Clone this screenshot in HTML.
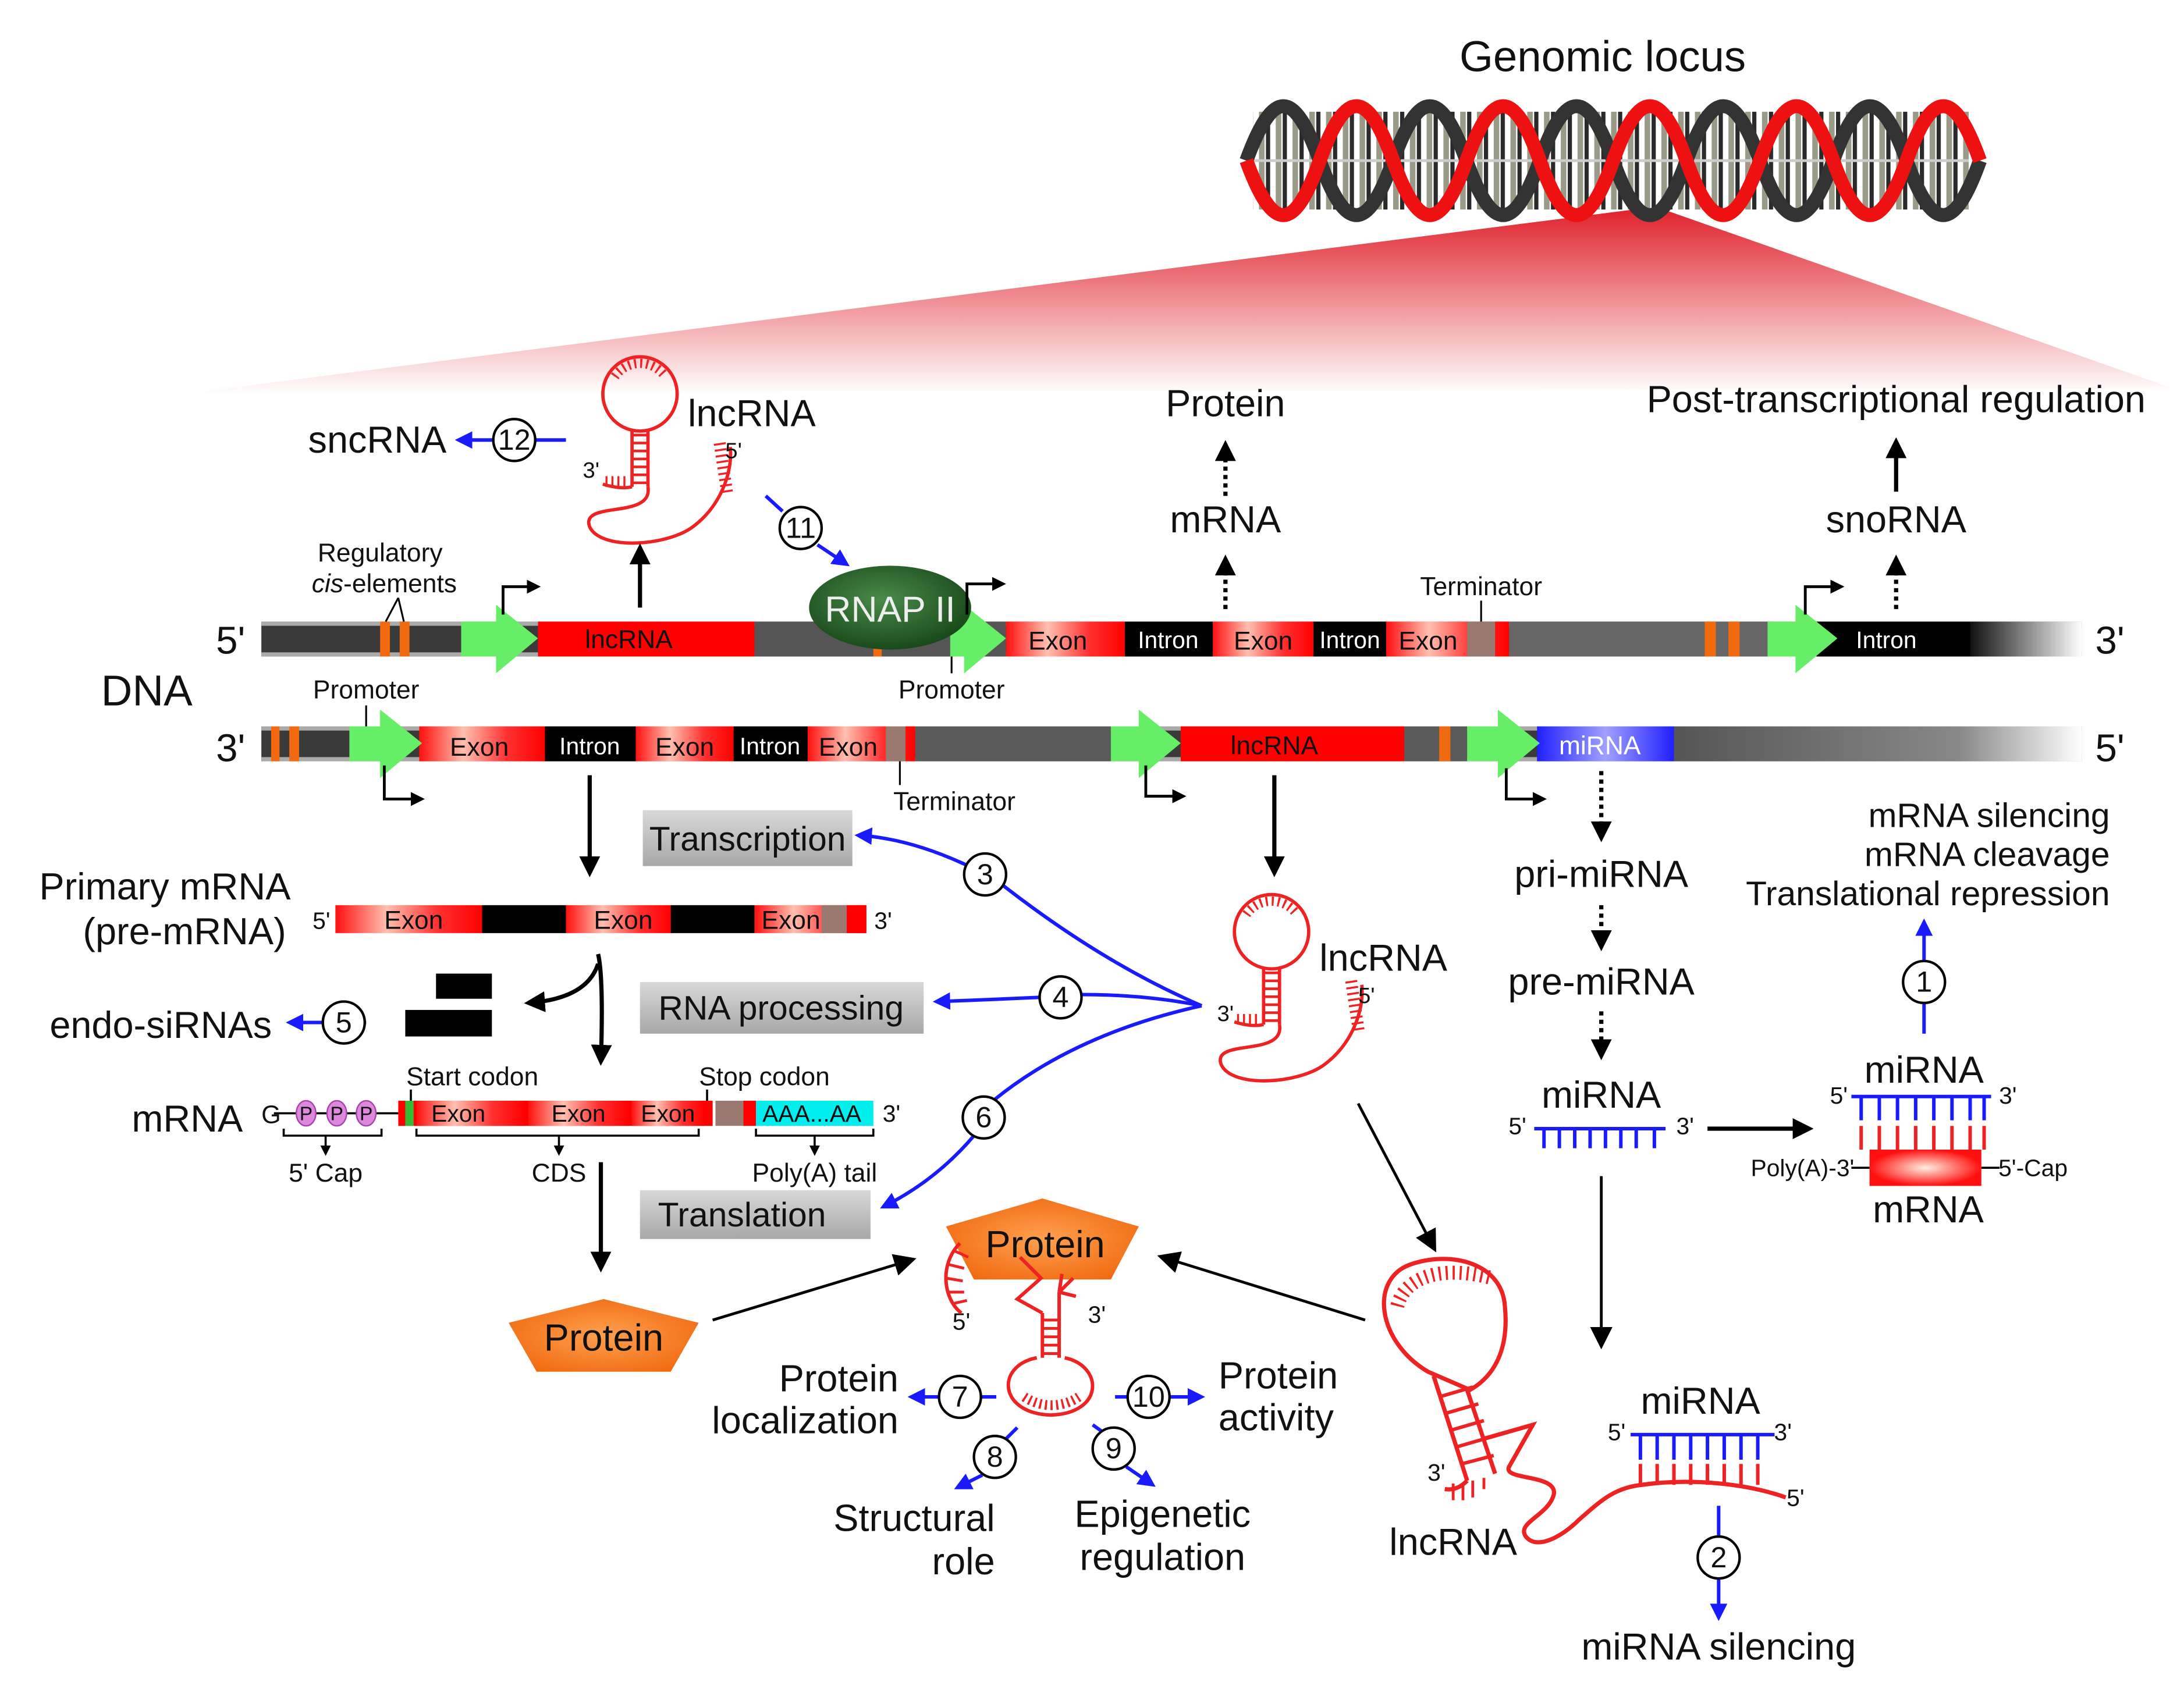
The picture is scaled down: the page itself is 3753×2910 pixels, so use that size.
<!DOCTYPE html>
<html><head><meta charset="utf-8"><style>
html,body{margin:0;padding:0;background:#fff;}
svg{display:block;}
text{font-family:"Liberation Sans",Arial,sans-serif;fill:#111;}
</style></head><body>
<svg xmlns="http://www.w3.org/2000/svg" width="3753" height="2910" viewBox="0 0 1563 1212">
<defs>
<linearGradient id="tri" x1="0" y1="0" x2="0" y2="1"><stop offset="0" stop-color="#e0202a"/><stop offset="1" stop-color="#fff"/></linearGradient>
<linearGradient id="ex" x1="0" y1="0" x2="1" y2="0"><stop offset="0" stop-color="#ff1010"/><stop offset="0.35" stop-color="#ffc0b0"/><stop offset="0.7" stop-color="#ff3030"/><stop offset="1" stop-color="#ff0000"/></linearGradient>
<linearGradient id="fade" x1="0" y1="0" x2="1" y2="0"><stop offset="0" stop-color="#555"/><stop offset="0.7" stop-color="#888"/><stop offset="1" stop-color="#fff"/></linearGradient>
<linearGradient id="fade2" x1="0" y1="0" x2="1" y2="0"><stop offset="0" stop-color="#111"/><stop offset="1" stop-color="#fff"/></linearGradient>
<linearGradient id="blu" x1="0" y1="0" x2="1" y2="0"><stop offset="0" stop-color="#2020ff"/><stop offset="0.5" stop-color="#a0a0ff"/><stop offset="1" stop-color="#2020ff"/></linearGradient>
<radialGradient id="rnap" cx="0.45" cy="0.4" r="0.6"><stop offset="0" stop-color="#4a8a4a"/><stop offset="1" stop-color="#1a4a1a"/></radialGradient>
<radialGradient id="mr" cx="0.5" cy="0.5" r="0.5"><stop offset="0" stop-color="#fff0e0"/><stop offset="1" stop-color="#ff1010"/></radialGradient>
<linearGradient id="box" x1="0" y1="0" x2="0" y2="1"><stop offset="0" stop-color="#d8d8d8"/><stop offset="1" stop-color="#a8a8a8"/></linearGradient>
<radialGradient id="prot" cx="0.5" cy="0.5" r="0.6"><stop offset="0" stop-color="#ffa050"/><stop offset="1" stop-color="#f06a10"/></radialGradient>
<pattern id="rung" width="12" height="80" patternUnits="userSpaceOnUse"><rect width="12" height="80" fill="#fff"/><rect x="1" width="4" height="80" fill="#9a9a88"/><rect x="6" width="3" height="80" fill="#2a2a2a"/></pattern>
<marker id="ab" markerWidth="8" markerHeight="8" refX="6" refY="4" orient="auto" markerUnits="strokeWidth"><path d="M0,0 L8,4 L0,8 Z" fill="#000"/></marker>
<marker id="ab2" markerWidth="5" markerHeight="5" refX="4" refY="2.5" orient="auto" markerUnits="strokeWidth"><path d="M0,0 L5,2.5 L0,5 Z" fill="#000"/></marker>
<marker id="bb" markerWidth="5" markerHeight="5" refX="4" refY="2.5" orient="auto" markerUnits="strokeWidth"><path d="M0,0 L5,2.5 L0,5 Z" fill="#1a1aff"/></marker>
<g id="hp" fill="none" stroke="#ee2222" stroke-width="2.5">
  <circle cx="0" cy="0" r="28"/>
  <path d="M -19 -13 A 23 23 0 0 1 19 -13" stroke-width="7" stroke-dasharray="1.5 3"/>
  <line x1="-6" y1="27" x2="-6" y2="70"/><line x1="6" y1="27" x2="6" y2="70"/>
  <line x1="0" y1="30" x2="0" y2="68" stroke-width="12" stroke-dasharray="2 4"/>
  <path d="M -6 70 Q -15 72 -28 68"/>
  <path d="M -26 66 L -10 66" stroke-width="8" stroke-dasharray="1.5 3"/>
  <path d="M 6 70 C 10 95 -45 80 -38 100 C -30 118 20 115 40 100 C 60 85 70 60 68 40"/>
  <path d="M 68 45 L 74 85" stroke-width="9" stroke-dasharray="1.5 3" transform="translate(-8 -8)"/>
</g>
</defs>
<rect width="1563" height="1212" fill="#fff"/>

<!-- zoom triangle -->
<polygon points="1185,148 130,282 1555,278" fill="url(#tri)"/>
<!-- helix -->
<rect x="897" y="80" width="512" height="70" fill="url(#rung)"/>
<line x1="897" y1="115" x2="1409" y2="115" stroke="#ccc" stroke-width="2"/>
<path d="M892 115 c19 -52 34 -52 52.5 0 s34 52 52.5 0 s34 -52 52.5 0 s34 52 52.5 0 s34 -52 52.5 0 s34 52 52.5 0 s34 -52 52.5 0 s34 52 52.5 0 s34 -52 52.5 0 s34 52 52.5 0" fill="none" stroke="#333" stroke-width="10"/>
<path d="M892 115 c19 52 34 52 52.5 0 s34 -52 52.5 0 s34 52 52.5 0 s34 -52 52.5 0 s34 52 52.5 0 s34 -52 52.5 0 s34 52 52.5 0 s34 -52 52.5 0 s34 52 52.5 0 s34 -52 52.5 0" fill="none" stroke="#ee1111" stroke-width="10"/>
<text x="1147" y="51" font-size="31" text-anchor="middle">Genomic locus</text>

<!-- top strand -->
<rect x="187" y="445" width="1303" height="25" fill="#3a3a3a"/>
<rect x="187" y="445" width="1303" height="3" fill="#aaa"/>
<rect x="187" y="467" width="1303" height="3" fill="#aaa"/>
<rect x="272" y="445" width="7" height="25" fill="#f26a10"/><rect x="286" y="445" width="7" height="25" fill="#f26a10"/>
<rect x="385" y="445" width="155" height="25" fill="#ff0000"/>
<rect x="540" y="445" width="180" height="25" fill="#555"/>
<rect x="720" y="445" width="85" height="25" fill="url(#ex)"/>
<rect x="805" y="445" width="63" height="25" fill="#000"/>
<rect x="868" y="445" width="72" height="25" fill="url(#ex)"/>
<rect x="940" y="445" width="52" height="25" fill="#000"/>
<rect x="992" y="445" width="88" height="25" fill="url(#ex)"/>
<rect x="1050" y="445" width="20" height="25" fill="#9a7a70"/>
<rect x="1080" y="445" width="190" height="25" fill="#666"/>
<rect x="1220" y="445" width="8" height="25" fill="#f26a10"/><rect x="1237" y="445" width="8" height="25" fill="#f26a10"/>
<rect x="1300" y="445" width="110" height="25" fill="#000"/>
<rect x="1410" y="445" width="80" height="25" fill="url(#fade2)"/>
<polygon points="330,445 355,445 355,433 385,457 355,482 355,470 330,470" fill="#66ee66"/>
<polygon points="680,445 690,445 690,433 720,457 690,482 690,470 680,470" fill="#66ee66"/>
<polygon points="1265,445 1285,445 1285,433 1315,457 1285,482 1285,470 1265,470" fill="#66ee66"/>
<rect x="625" y="462" width="6" height="8" fill="#f26a10"/>
<ellipse cx="637" cy="435" rx="58" ry="30" fill="url(#rnap)"/>
<text x="637" y="445" font-size="26" text-anchor="middle" style="fill:#eee">RNAP II</text>
<g font-size="18.5" text-anchor="middle">
<text x="450" y="464">lncRNA</text>
<text x="757" y="465">Exon</text><text x="836" y="464" style="fill:#fff" font-size="17">Intron</text>
<text x="904" y="465">Exon</text><text x="966" y="464" style="fill:#fff" font-size="17">Intron</text>
<text x="1022" y="465">Exon</text><text x="1350" y="464" style="fill:#fff" font-size="17">Intron</text>
</g>
<text x="165" y="468" font-size="28" text-anchor="middle">5'</text>
<text x="1510" y="468" font-size="28" text-anchor="middle">3'</text>
<text x="105" y="505" font-size="31" text-anchor="middle">DNA</text>

<!-- bottom strand -->
<rect x="187" y="520" width="1303" height="25" fill="#3a3a3a"/>
<rect x="187" y="520" width="1303" height="3" fill="#aaa"/>
<rect x="187" y="542" width="1303" height="3" fill="#aaa"/>
<rect x="194" y="520" width="6" height="25" fill="#f26a10"/><rect x="207" y="520" width="7" height="25" fill="#f26a10"/>
<rect x="300" y="520" width="90" height="25" fill="url(#ex)"/>
<rect x="390" y="520" width="65" height="25" fill="#000"/>
<rect x="455" y="520" width="70" height="25" fill="url(#ex)"/>
<rect x="525" y="520" width="53" height="25" fill="#000"/>
<rect x="578" y="520" width="77" height="25" fill="url(#ex)"/>
<rect x="634" y="520" width="14" height="25" fill="#9a7a70"/>
<rect x="655" y="520" width="140" height="25" fill="#5a5a5a"/>
<rect x="845" y="520" width="160" height="25" fill="#ff0000"/>
<rect x="1005" y="520" width="45" height="25" fill="#5a5a5a"/>
<rect x="1030" y="520" width="8" height="25" fill="#f26a10"/>
<rect x="1100" y="520" width="98" height="25" fill="url(#blu)"/>
<rect x="1198" y="520" width="292" height="25" fill="url(#fade)"/>
<polygon points="250,520 272,520 272,508 302,532 272,557 272,545 250,545" fill="#66ee66"/>
<polygon points="795,520 815,520 815,508 845,532 815,557 815,545 795,545" fill="#66ee66"/>
<polygon points="1050,520 1072,520 1072,508 1102,532 1072,557 1072,545 1050,545" fill="#66ee66"/>
<g font-size="18.5" text-anchor="middle">
<text x="343" y="541">Exon</text><text x="422" y="540" style="fill:#fff" font-size="17">Intron</text>
<text x="490" y="541">Exon</text><text x="551" y="540" style="fill:#fff" font-size="17">Intron</text>
<text x="607" y="541">Exon</text>
<text x="912" y="540">lncRNA</text><text x="1145" y="540" style="fill:#fff">miRNA</text>
</g>
<text x="165" y="545" font-size="28" text-anchor="middle">3'</text>
<text x="1510" y="545" font-size="28" text-anchor="middle">5'</text>

<!-- TSS bent arrows -->
<g fill="none" stroke="#000" stroke-width="2" marker-end="url(#ab2)">
<path d="M360 440 V420 H385"/><path d="M692 440 V418 H718"/><path d="M1292 440 V420 H1318"/>
<path d="M275 548 V572 H302"/><path d="M820 548 V570 H847"/><path d="M1078 550 V572 H1105"/>
</g>
<!-- labels on DNA -->
<g font-size="18.5" text-anchor="middle">
<text x="272" y="402">Regulatory</text>
<text x="275" y="424"><tspan font-style="italic">cis</tspan>-elements</text>
<text x="262" y="500">Promoter</text>
<text x="681" y="500">Promoter</text>
<text x="1060" y="426">Terminator</text>
<text x="683" y="580">Terminator</text>
</g>
<g stroke="#000" stroke-width="1.3">
<line x1="276" y1="445" x2="285" y2="428"/><line x1="289" y1="445" x2="285" y2="428"/>
<line x1="262" y1="505" x2="262" y2="520"/><line x1="681" y1="470" x2="681" y2="482"/>
<line x1="1060" y1="430" x2="1060" y2="445"/><line x1="644" y1="545" x2="644" y2="562"/>
</g>

<!-- top hairpin -->
<use href="#hp" transform="translate(458,282) scale(0.95)"/>
<text x="538" y="305" font-size="27" text-anchor="middle">lncRNA</text>
<text x="525" y="328" font-size="16" text-anchor="middle">5'</text>
<text x="423" y="342" font-size="16" text-anchor="middle">3'</text>
<line x1="458" y1="435" x2="458" y2="392" stroke="#000" stroke-width="3" marker-end="url(#ab2)"/>
<text x="270" y="324" font-size="27" text-anchor="middle">sncRNA</text>
<line x1="405" y1="315" x2="328" y2="315" stroke="#1a1aff" stroke-width="2.5" marker-end="url(#bb)"/>
<g fill="none" stroke="#1a1aff" stroke-width="2.5">
<line x1="548" y1="355" x2="560" y2="366"/>
<line x1="585" y1="390" x2="606" y2="404" marker-end="url(#bb)"/>
<path d="M860 720 Q790 690 718 634"/><path d="M691 619 Q650 600 614 598" marker-end="url(#bb)"/>
<path d="M860 720 Q820 712 774 712"/><path d="M744 714 Q700 716 670 717" marker-end="url(#bb)"/>
<path d="M860 720 Q770 740 712 787"/><path d="M697 813 Q670 845 632 864" marker-end="url(#bb)"/>
<line x1="262" y1="732" x2="207" y2="732" marker-end="url(#bb)"/>
<line x1="1377" y1="740" x2="1377" y2="718"/><line x1="1377" y1="688" x2="1377" y2="660" marker-end="url(#bb)"/>
<line x1="1230" y1="1078" x2="1230" y2="1100"/><line x1="1230" y1="1130" x2="1230" y2="1158" marker-end="url(#bb)"/>
<line x1="713" y1="1000" x2="702" y2="1000"/><line x1="672" y1="1000" x2="652" y2="1000" marker-end="url(#bb)"/>
<line x1="798" y1="1000" x2="807" y2="1000"/><line x1="837" y1="1000" x2="860" y2="1000" marker-end="url(#bb)"/>
<line x1="728" y1="1022" x2="720" y2="1030"/><line x1="703" y1="1056" x2="685" y2="1065" marker-end="url(#bb)"/>
<line x1="782" y1="1020" x2="789" y2="1025"/><line x1="806" y1="1050" x2="825" y2="1063" marker-end="url(#bb)"/>
</g>
<g fill="#fff" stroke="#000" stroke-width="1.8">
<circle cx="368" cy="315" r="15"/><circle cx="573" cy="378" r="15"/>
<circle cx="705" cy="626" r="15"/><circle cx="759" cy="714" r="15"/><circle cx="704" cy="800" r="15"/>
<circle cx="246" cy="732" r="15"/><circle cx="1377" cy="703" r="15"/><circle cx="1230" cy="1115" r="15"/>
<circle cx="687" cy="1000" r="15"/><circle cx="822" cy="1000" r="15"/><circle cx="712" cy="1043" r="15"/><circle cx="797" cy="1037" r="15"/>
</g>
<g font-size="21" text-anchor="middle">
<text x="368" y="322">12</text><text x="573" y="385">11</text><text x="705" y="633">3</text><text x="759" y="721">4</text>
<text x="704" y="807">6</text><text x="246" y="739">5</text><text x="1377" y="710">1</text><text x="1230" y="1122">2</text>
<text x="687" y="1007">7</text><text x="822" y="1007">10</text><text x="712" y="1050">8</text><text x="797" y="1044">9</text>
</g>

<!-- Protein / mRNA / snoRNA top -->
<text x="877" y="298" font-size="27" text-anchor="middle">Protein</text>
<text x="877" y="381" font-size="27" text-anchor="middle">mRNA</text>
<text x="1357" y="295" font-size="27" text-anchor="middle">Post-transcriptional regulation</text>
<text x="1357" y="381" font-size="27" text-anchor="middle">snoRNA</text>
<g stroke="#000" stroke-width="3" fill="none">
<line x1="877" y1="436" x2="877" y2="400" stroke-dasharray="3 3" marker-end="url(#ab2)"/>
<line x1="877" y1="355" x2="877" y2="318" stroke-dasharray="3 3" marker-end="url(#ab2)"/>
<line x1="1357" y1="436" x2="1357" y2="400" stroke-dasharray="3 3" marker-end="url(#ab2)"/>
<line x1="1357" y1="352" x2="1357" y2="316" marker-end="url(#ab2)"/>
<line x1="1146" y1="552" x2="1146" y2="600" stroke-dasharray="3 3" marker-end="url(#ab2)"/>
<line x1="1146" y1="648" x2="1146" y2="678" stroke-dasharray="3 3" marker-end="url(#ab2)"/>
<line x1="1146" y1="724" x2="1146" y2="756" stroke-dasharray="3 3" marker-end="url(#ab2)"/>
<line x1="422" y1="555" x2="422" y2="625" marker-end="url(#ab2)"/>
<line x1="912" y1="555" x2="912" y2="625" marker-end="url(#ab2)"/>
<path d="M428 683 Q432 700 430 760" marker-end="url(#ab2)"/>
<path d="M428 690 Q420 715 378 718" marker-end="url(#ab2)"/>
<line x1="430" y1="832" x2="430" y2="908" marker-end="url(#ab2)"/>
<line x1="1222" y1="808" x2="1295" y2="808" marker-end="url(#ab2)"/>
</g>
<g stroke="#000" stroke-width="2" fill="none">
<line x1="510" y1="945" x2="652" y2="902" marker-end="url(#ab)"/>
<line x1="977" y1="945" x2="832" y2="900" marker-end="url(#ab)"/>
<line x1="972" y1="790" x2="1026" y2="893" marker-end="url(#ab)"/>
<line x1="1146" y1="842" x2="1146" y2="962" marker-end="url(#ab)"/>
</g>

<!-- gray boxes -->
<rect x="460" y="580" width="150" height="40" fill="url(#box)"/>
<text x="535" y="609" font-size="24.5" text-anchor="middle">Transcription</text>
<rect x="458" y="703" width="203" height="37" fill="url(#box)"/>
<text x="559" y="730" font-size="24.5" text-anchor="middle">RNA processing</text>
<rect x="458" y="852" width="165" height="35" fill="url(#box)"/>
<text x="531" y="878" font-size="24.5" text-anchor="middle">Translation</text>

<!-- pre-mRNA -->
<text x="118" y="644" font-size="27" text-anchor="middle">Primary mRNA</text>
<text x="132" y="676" font-size="27" text-anchor="middle">(pre-mRNA)</text>
<rect x="240" y="648" width="105" height="20" fill="url(#ex)"/>
<rect x="345" y="648" width="60" height="20" fill="#000"/>
<rect x="405" y="648" width="75" height="20" fill="url(#ex)"/>
<rect x="480" y="648" width="60" height="20" fill="#000"/>
<rect x="540" y="648" width="80" height="20" fill="url(#ex)"/>
<rect x="588" y="648" width="18" height="20" fill="#9a7a70"/>
<rect x="606" y="648" width="14" height="20" fill="#f00"/>
<g font-size="18.5" text-anchor="middle"><text x="296" y="665">Exon</text><text x="446" y="665">Exon</text><text x="566" y="665">Exon</text></g>
<text x="230" y="665" font-size="17" text-anchor="middle">5'</text>
<text x="632" y="665" font-size="17" text-anchor="middle">3'</text>
<rect x="312" y="697" width="40" height="18" fill="#000"/>
<rect x="290" y="723" width="62" height="19" fill="#000"/>
<text x="115" y="743" font-size="27" text-anchor="middle">endo-siRNAs</text>

<!-- mRNA -->
<text x="134" y="810" font-size="27" text-anchor="middle">mRNA</text>
<line x1="196" y1="797" x2="285" y2="797" stroke="#000" stroke-width="1.5"/>
<text x="194" y="804" font-size="18" text-anchor="middle">G</text>
<g fill="#dd88dd" stroke="#aa44aa" stroke-width="1"><ellipse cx="219" cy="797" rx="7" ry="9"/><ellipse cx="241" cy="797" rx="7" ry="9"/><ellipse cx="262" cy="797" rx="7" ry="9"/></g>
<g font-size="14" text-anchor="middle"><text x="219" y="802">P</text><text x="241" y="802">P</text><text x="262" y="802">P</text></g>
<rect x="285" y="788" width="225" height="18" fill="#f00"/>
<rect x="290" y="788" width="6" height="18" fill="#33bb33"/>
<rect x="298" y="788" width="78" height="18" fill="url(#ex)"/>
<rect x="378" y="788" width="72" height="18" fill="url(#ex)"/>
<rect x="452" y="788" width="52" height="18" fill="url(#ex)"/>
<rect x="512" y="788" width="20" height="18" fill="#9a7a70"/>
<rect x="532" y="788" width="9" height="18" fill="#f00"/>
<rect x="541" y="788" width="84" height="18" fill="#00eeee"/>
<g font-size="17" text-anchor="middle"><text x="328" y="803">Exon</text><text x="414" y="803">Exon</text><text x="478" y="803">Exon</text><text x="581" y="803">AAA...AA</text></g>
<text x="638" y="803" font-size="17" text-anchor="middle">3'</text>
<text x="338" y="777" font-size="18.5" text-anchor="middle">Start codon</text>
<text x="547" y="777" font-size="18.5" text-anchor="middle">Stop codon</text>
<g stroke="#000" stroke-width="1.5" fill="none">
<line x1="294" y1="780" x2="294" y2="788"/><line x1="506" y1="780" x2="506" y2="788"/>
<path d="M203 808 V813 H273 V808"/><path d="M298 808 V813 H500 V808"/><path d="M541 808 V813 H625 V808"/>
<line x1="233" y1="813" x2="233" y2="826" marker-end="url(#ab2)"/>
<line x1="400" y1="813" x2="400" y2="826" marker-end="url(#ab2)"/>
<line x1="583" y1="813" x2="583" y2="826" marker-end="url(#ab2)"/>
</g>
<g font-size="18.5" text-anchor="middle"><text x="233" y="846">5' Cap</text><text x="400" y="846">CDS</text><text x="583" y="846">Poly(A) tail</text></g>

<!-- middle hairpin -->
<use href="#hp" transform="translate(910,667) scale(0.95)"/>
<text x="990" y="695" font-size="27" text-anchor="middle">lncRNA</text>
<text x="978" y="718" font-size="16" text-anchor="middle">5'</text>
<text x="877" y="731" font-size="16" text-anchor="middle">3'</text>

<!-- miRNA right column -->
<g font-size="27" text-anchor="middle">
<text x="1146" y="635">pri-miRNA</text><text x="1146" y="712">pre-miRNA</text><text x="1146" y="793">miRNA</text>
<text x="1377" y="775">miRNA</text><text x="1380" y="875">mRNA</text>
<text x="1217" y="1012">miRNA</text><text x="1230" y="1188">miRNA silencing</text>
</g>
<g font-size="24.5" text-anchor="end"><text x="1510" y="592">mRNA silencing</text><text x="1510" y="620">mRNA cleavage</text><text x="1510" y="648">Translational repression</text></g>
<g stroke="#1a1aff" stroke-width="2.5" fill="none">
<line x1="1098" y1="808" x2="1192" y2="808"/>
<path d="M1105 808 v14 M1116 808 v14 M1127 808 v14 M1138 808 v14 M1149 808 v14 M1160 808 v14 M1171 808 v14 M1184 808 v14"/>
<line x1="1325" y1="785" x2="1425" y2="785"/>
<path d="M1332 785 v17 M1345 785 v17 M1358 785 v17 M1371 785 v17 M1384 785 v17 M1397 785 v17 M1410 785 v17 M1420 785 v17"/>
<line x1="1167" y1="1027" x2="1270" y2="1027"/>
<path d="M1174 1027 v18 M1186 1027 v18 M1198 1027 v18 M1210 1027 v18 M1222 1027 v18 M1234 1027 v18 M1246 1027 v18 M1258 1027 v18"/>
</g>
<g font-size="17" text-anchor="middle"><text x="1086" y="812">5'</text><text x="1206" y="812">3'</text><text x="1316" y="790">5'</text><text x="1437" y="790">3'</text>
<text x="1290" y="842">Poly(A)-3'</text><text x="1455" y="842">5'-Cap</text><text x="1157" y="1031">5'</text><text x="1276" y="1031">3'</text><text x="1285" y="1078">5'</text>
<text x="1028" y="1060">3'</text><text x="688" y="952">5'</text><text x="785" y="947">3'</text></g>
<g stroke="#ee2222" stroke-width="2.5" fill="none">
<path d="M1332 806 v17 M1345 806 v17 M1358 806 v17 M1371 806 v17 M1384 806 v17 M1397 806 v17 M1410 806 v17 M1420 806 v17"/>
<line x1="1325" y1="836" x2="1338" y2="836" stroke="#000" stroke-width="1.5"/>
<line x1="1418" y1="836" x2="1431" y2="836" stroke="#000" stroke-width="1.5"/>
</g>
<rect x="1338" y="823" width="80" height="26" fill="url(#mr)"/>

<!-- big bottom lncRNA -->
<g stroke="#ee2222" stroke-width="3" fill="none">
<path d="M1022 982 C985 960 980 915 1010 905 C1040 895 1075 905 1077 935 C1080 965 1070 985 1052 995 Z"/>
<path d="M1000 935 C1005 915 1030 905 1068 915" stroke-width="10" stroke-dasharray="1.5 3.5"/>
<line x1="1026" y1="985" x2="1050" y2="1060"/>
<line x1="1050" y1="995" x2="1070" y2="1055"/>
<path d="M1030 1000 L1054 993 M1034 1012 L1058 1005 M1038 1024 L1062 1017 M1042 1036 L1066 1029 M1046 1048 L1069 1042" stroke-width="2.5"/>
<path d="M1050 1060 C1045 1065 1040 1067 1034 1066"/>
<path d="M1040 1062 v12 M1047 1062 v12 M1054 1060 v12 M1062 1058 v8" stroke-width="2"/>
<path d="M1062 1030 L1097 1020 L1080 1050 C1075 1060 1115 1055 1112 1070 C1108 1085 1085 1090 1092 1100 C1100 1110 1118 1100 1130 1088 C1145 1075 1155 1065 1175 1063 C1210 1058 1250 1062 1278 1072"/>
<path d="M1174 1048 v15 M1186 1048 v15 M1198 1048 v15 M1210 1048 v15 M1222 1048 v15 M1234 1048 v15 M1246 1048 v15 M1258 1048 v15" stroke-width="2.5"/>
</g>
<text x="1040" y="1113" font-size="27" text-anchor="middle">lncRNA</text>

<!-- proteins -->
<polygon points="432,930 500,947 480,982 384,982 364,947" fill="url(#prot)"/>
<text x="432" y="967" font-size="27" text-anchor="middle">Protein</text>
<polygon points="746,858 815,878 795,916 697,916 677,878" fill="url(#prot)"/>
<text x="748" y="900" font-size="27" text-anchor="middle">Protein</text>
<!-- protein-bound lncRNA -->
<g stroke="#ee2222" stroke-width="2.5" fill="none">
<path d="M742 972 C712 978 715 1012 752 1013 C790 1012 790 978 762 972"/>
<path d="M733 1000 C745 1008 760 1008 772 1000" stroke-width="7" stroke-dasharray="1.5 2.5"/>
<line x1="746" y1="972" x2="746" y2="940"/><line x1="758" y1="972" x2="758" y2="925"/>
<line x1="752" y1="970" x2="752" y2="942" stroke-width="10" stroke-dasharray="2 4"/>
<path d="M746 940 L728 930 L745 915 L730 900"/>
<path d="M758 925 L760 912 M758 925 L768 915 M758 925 L770 928"/>
<path d="M687 890 C672 905 675 930 688 940"/>
<path d="M682 895 L693 900 M678 905 L690 908 M677 915 L689 917 M679 925 L690 925 M683 933 L692 931" stroke-width="2"/>
</g>
<g font-size="27">
<text x="643" y="996" text-anchor="end">Protein</text><text x="643" y="1026" text-anchor="end">localization</text>
<text x="872" y="994">Protein</text><text x="872" y="1024">activity</text>
<text x="712" y="1096" text-anchor="end">Structural</text><text x="712" y="1127" text-anchor="end">role</text>
<text x="832" y="1093" text-anchor="middle">Epigenetic</text><text x="832" y="1124" text-anchor="middle">regulation</text>
</g>
</svg>
</body></html>
